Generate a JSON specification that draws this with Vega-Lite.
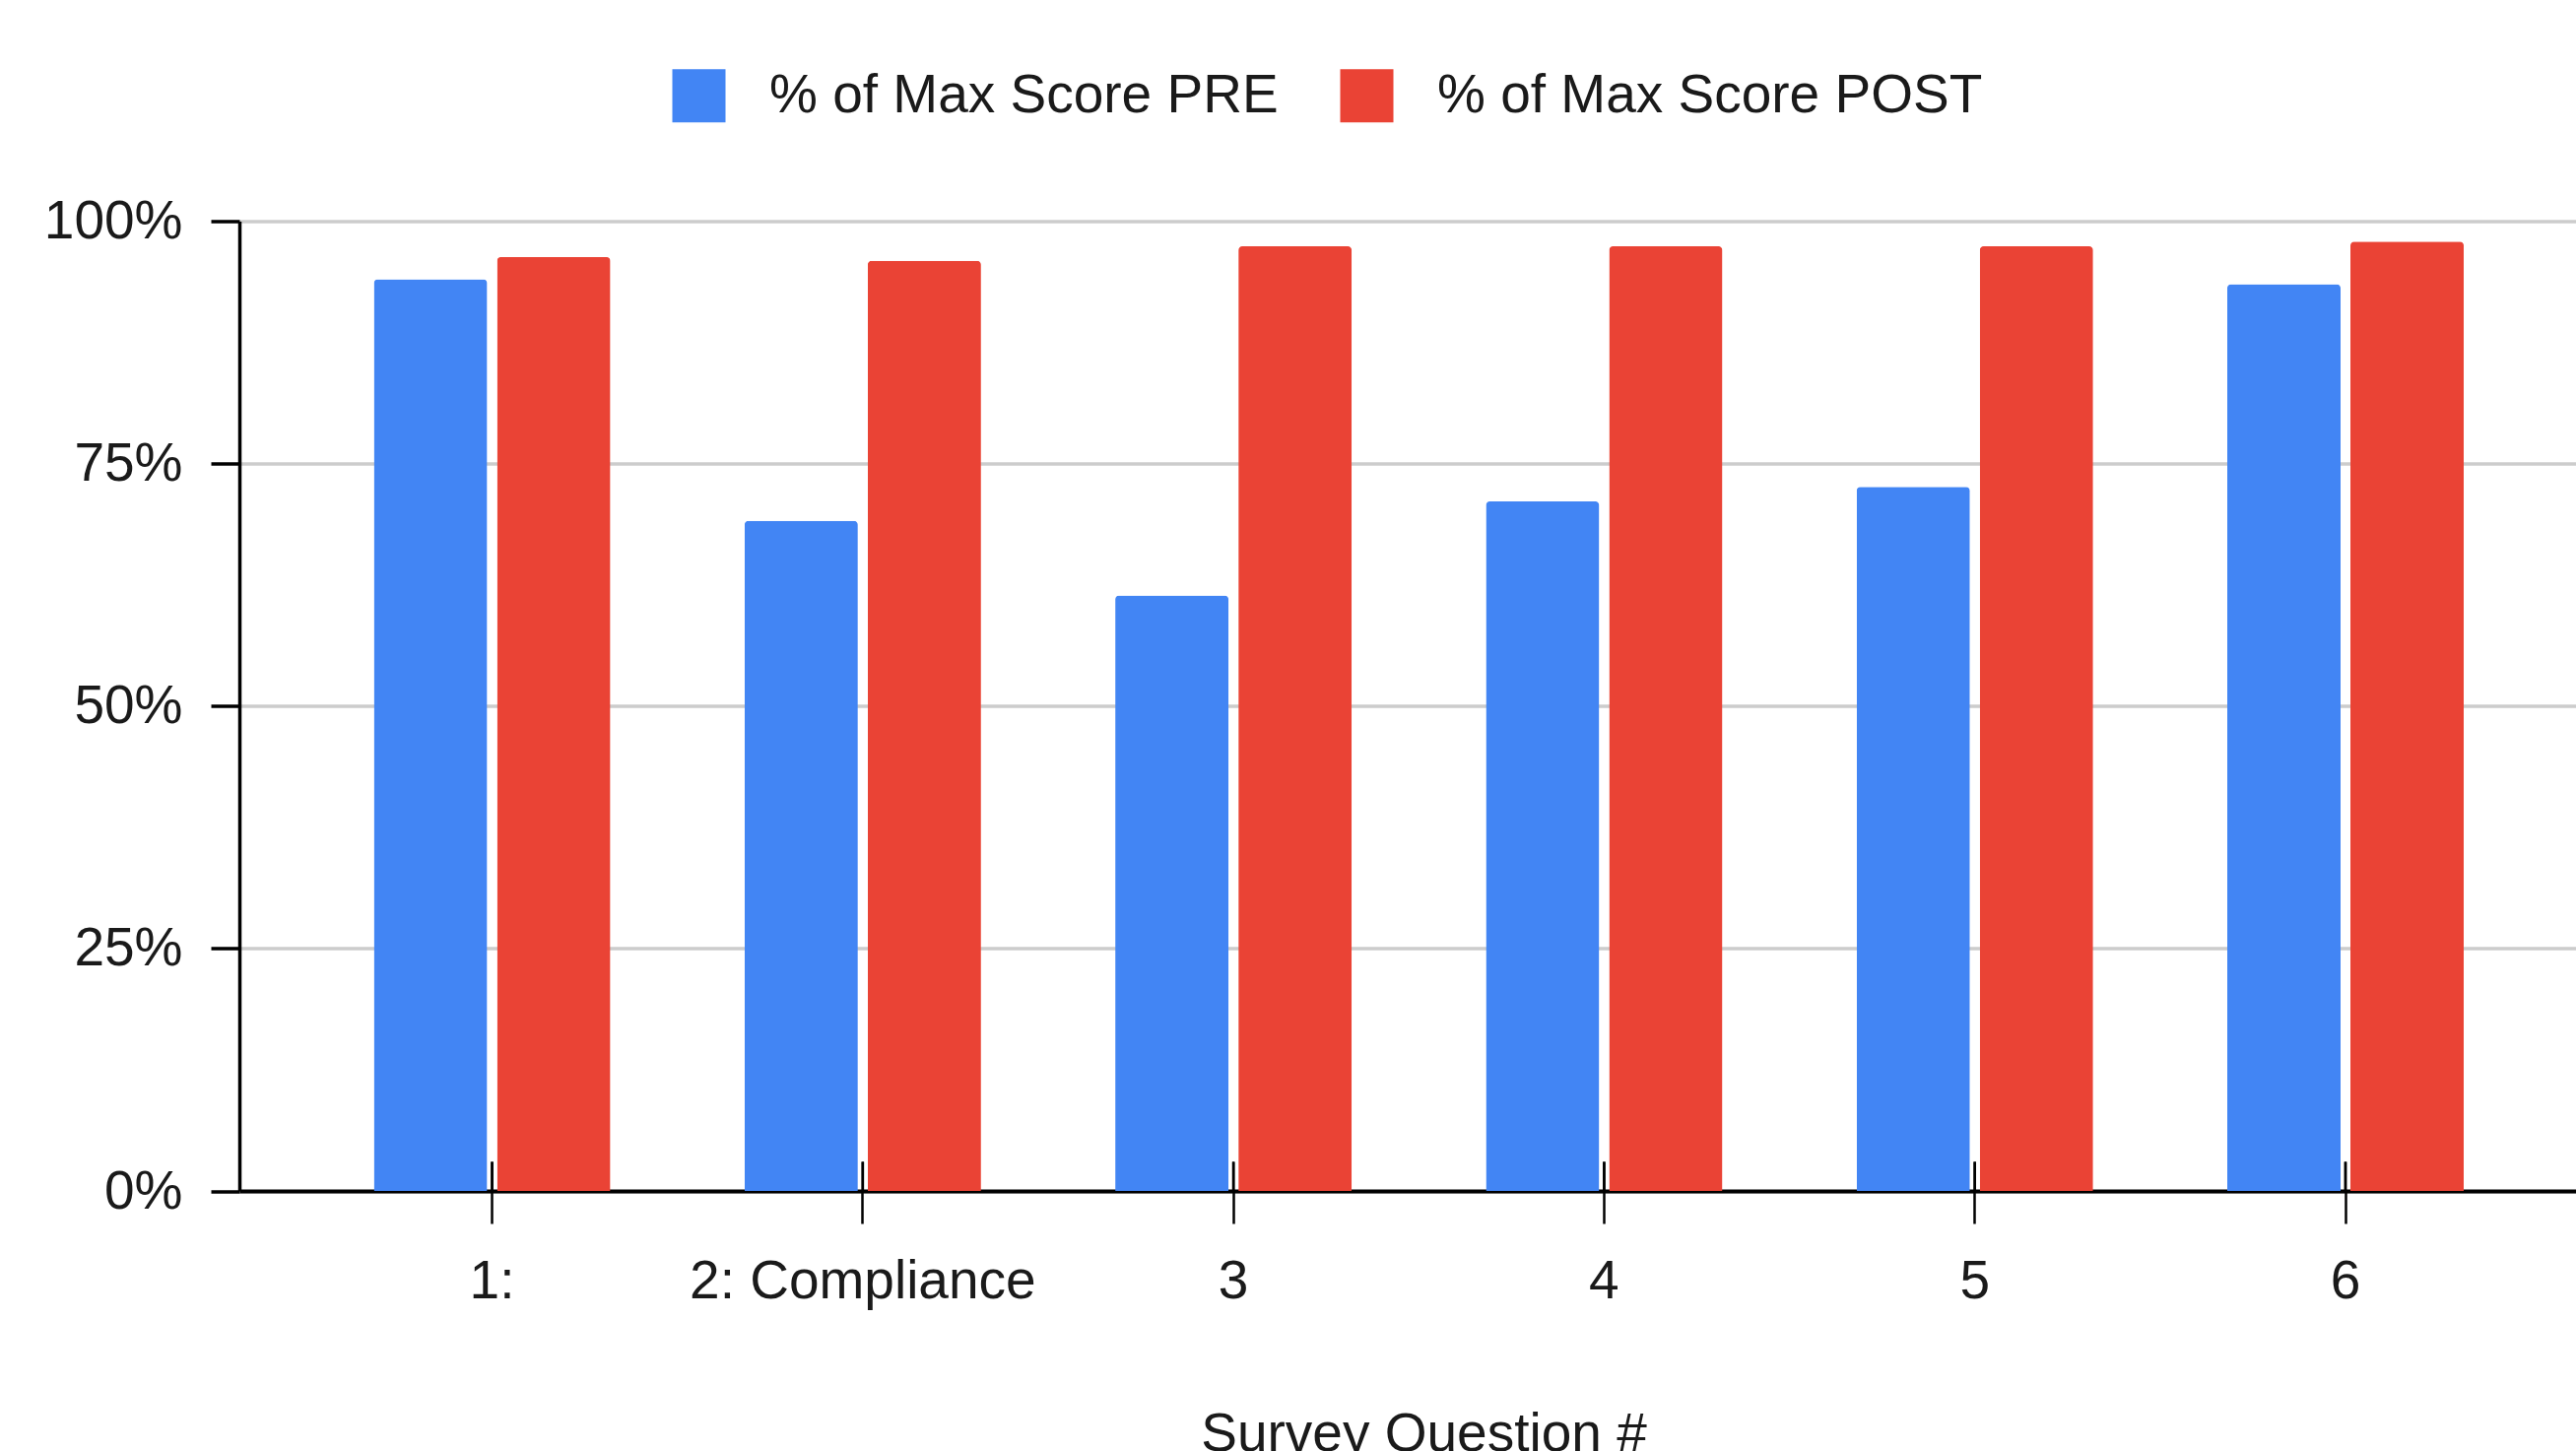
{
  "$schema": "https://vega.github.io/schema/vega-lite/v6.json",
  "width": 2372,
  "height": 984.5,
  "autosize": {"type": "none"},
  "padding": {"left": 243, "top": 224.5, "right": 0, "bottom": 264},
  "background": "white",
  "config": {"view": {"stroke": null}, "font": "Liberation Sans"},
  "data": {
    "values": [
      {"question": "1:", "series": "% of Max Score PRE", "value": 0.940},
      {"question": "1:", "series": "% of Max Score POST", "value": 0.963},
      {"question": "2: Compliance", "series": "% of Max Score PRE", "value": 0.691},
      {"question": "2: Compliance", "series": "% of Max Score POST", "value": 0.959},
      {"question": "3", "series": "% of Max Score PRE", "value": 0.614},
      {"question": "3", "series": "% of Max Score POST", "value": 0.974},
      {"question": "4", "series": "% of Max Score PRE", "value": 0.711},
      {"question": "4", "series": "% of Max Score POST", "value": 0.974},
      {"question": "5", "series": "% of Max Score PRE", "value": 0.726},
      {"question": "5", "series": "% of Max Score POST", "value": 0.974},
      {"question": "6", "series": "% of Max Score PRE", "value": 0.935},
      {"question": "6", "series": "% of Max Score POST", "value": 0.979}
    ]
  },
  "encoding": {
    "x": {
      "field": "question",
      "type": "nominal",
      "sort": null,
      "scale": {"paddingInner": 0.362, "paddingOuter": 0.3328, "align": 0.545},
      "axis": {
        "title": "Survey Question #",
        "labelAngle": 0,
        "labelFontSize": 55,
        "labelColor": "#1a1a1a",
        "labelLimit": 1000,
        "labelPadding": 32,
        "tickSize": 33,
        "tickColor": "#000000",
        "tickWidth": 2.5,
        "domainColor": "#000000",
        "domainWidth": 4,
        "grid": false,
        "titleFontSize": 55,
        "titleFontWeight": "normal",
        "titleColor": "#1a1a1a",
        "titleBaseline": "alphabetic",
        "titleY": 263,
        "titleX": 1202
      }
    }
  },
  "layer": [
    {
      "mark": {"type": "bar", "cornerRadiusTopLeft": 4, "cornerRadiusTopRight": 4},
      "encoding": {
        "xOffset": {
          "field": "series",
          "type": "nominal",
          "sort": ["% of Max Score PRE", "% of Max Score POST"],
          "scale": {"paddingInner": 0.08, "paddingOuter": 0}
        },
        "y": {
          "field": "value",
          "type": "quantitative",
          "scale": {"domain": [0, 1], "nice": false},
          "axis": {
            "title": null,
            "values": [0, 0.25, 0.5, 0.75, 1],
            "format": ".0%",
            "labelFontSize": 55,
            "labelColor": "#1a1a1a",
            "labelPadding": 29,
            "tickSize": 29,
            "tickColor": "#000000",
            "tickWidth": 3.5,
            "domainColor": "#000000",
            "domainWidth": 3.5,
            "gridColor": "#cccccc",
            "gridWidth": 3.5
          }
        },
        "color": {
          "field": "series",
          "type": "nominal",
          "sort": ["% of Max Score PRE", "% of Max Score POST"],
          "scale": {
            "domain": ["% of Max Score PRE", "% of Max Score POST"],
            "range": ["#4285F4", "#EA4335"]
          },
          "legend": {
            "orient": "none",
            "legendX": 439,
            "legendY": -155,
            "direction": "horizontal",
            "title": null,
            "padding": 0,
            "symbolType": "square",
            "symbolSize": 2916,
            "symbolStrokeWidth": 0,
            "symbolOpacity": 1,
            "labelFontSize": 55,
            "labelColor": "#1a1a1a",
            "labelOffset": 44,
            "labelLimit": 1000,
            "columnPadding": 62
          }
        }
      }
    },
    {
      "mark": {"type": "rule", "color": "#000000", "strokeWidth": 2.5},
      "encoding": {
        "y": {"datum": 0},
        "y2": {"datum": 0.03}
      }
    }
  ]
}
